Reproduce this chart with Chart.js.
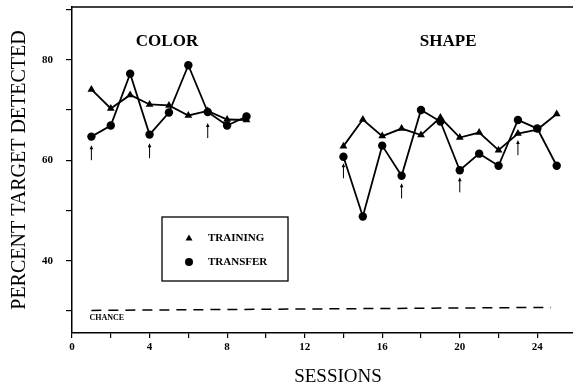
<!DOCTYPE html>
<html lang="en">

<head>
    <meta charset="UTF-8" />
    <title>Sessions</title>
    <script src="https://cdn.jsdelivr.net/npm/chart.js"></script>
    <style>
        body { margin: 0; background: #fff; }
        #wrap { width: 573px; height: 389px; }
    </style>
</head>

<body>
    <div id="wrap"><canvas id="chart"></canvas></div>
    <script>
        // data
        var colorSessions = [1, 2, 3, 4, 5, 6, 7, 8, 9];
        var colorTraining = [74.1, 70.3, 73, 71.1, 70.9, 68.9, 69.8, 68.1, 68];
        var colorTransfer = [64.7, 66.9, 77.2, 65.1, 69.5, 78.9, 69.6, 66.9, 68.7];

        var shapeSessions = [14, 15, 16, 17, 18, 19, 20, 21, 22, 23, 24, 25];
        var shapeTraining = [62.8, 68.1, 64.8, 66.3, 65, 68.5, 64.5, 65.5, 62, 65.3, 66.1, 69.2];
        var shapeTransfer = [60.7, 48.8, 62.9, 56.9, 70, 67.7, 58, 61.3, 58.9, 68, 66.3, 58.9];

        var chanceSessions = [1, 24.7];
        var chanceValues = [30.1, 30.7];

        // arrows under transfer points (session, tip value)
        var arrowSessions = [1, 4, 7, 14, 17, 20, 23];
        var arrowTips = [63, 63.4, 67.4, 59.4, 55.4, 56.6, 64];

        var panelLabels = ["COLOR", "SHAPE"];
        var panelX = [4.9, 19.4];
        var panelY = [83.7, 83.7];

        var serif = "'Liberation Serif', 'DejaVu Serif', serif";

        function pts(xs, ys) {
            return xs.map(function (x, i) { return { x: x, y: ys[i] }; });
        }

        var training = pts(colorSessions, colorTraining).concat([{ x: 11, y: null }], pts(shapeSessions, shapeTraining));
        var transfer = pts(colorSessions, colorTransfer).concat([{ x: 11, y: null }], pts(shapeSessions, shapeTransfer));

        var extras = {
            id: "extras",
            afterDatasetsDraw: function (chart) {
                var c = chart.ctx, xs = chart.scales.x, ys = chart.scales.y, a = chart.chartArea;
                c.save();
                c.strokeStyle = "#000";
                c.fillStyle = "#000";
                // top frame line
                c.lineWidth = 1.5;
                c.beginPath();
                c.moveTo(a.left, a.top);
                c.lineTo(a.right, a.top);
                c.stroke();

                // arrows
                c.lineWidth = 1;
                arrowSessions.forEach(function (s, i) {
                    var px = xs.getPixelForValue(s);
                    var tip = ys.getPixelForValue(arrowTips[i]);
                    var tail = ys.getPixelForValue(arrowTips[i] - 3);
                    c.beginPath();
                    c.moveTo(px, tail);
                    c.lineTo(px, tip + 3);
                    c.stroke();
                    c.beginPath();
                    c.moveTo(px, tip);
                    c.lineTo(px - 1.8, tip + 4);
                    c.lineTo(px + 1.8, tip + 4);
                    c.closePath();
                    c.fill();
                });

                // panel labels
                c.font = "bold 17px " + serif;
                c.textAlign = "center";
                c.textBaseline = "middle";
                panelLabels.forEach(function (t, i) {
                    c.fillText(t, xs.getPixelForValue(panelX[i]), ys.getPixelForValue(panelY[i]));
                });

                // x axis title (sits right of centre in the original)
                c.font = "19px " + serif;
                c.fillText("SESSIONS", 338, 377);

                // chance label
                c.font = "bold 8px " + serif;
                c.textAlign = "left";
                c.fillText("CHANCE", xs.getPixelForValue(0.9), ys.getPixelForValue(28.5));

                // legend box
                c.lineWidth = 1.3;
                c.strokeRect(162, 217, 126, 64);
                c.beginPath();
                c.moveTo(189, 234.5);
                c.lineTo(185.5, 240.5);
                c.lineTo(192.5, 240.5);
                c.closePath();
                c.fill();
                c.beginPath();
                c.arc(189, 262, 4, 0, Math.PI * 2);
                c.fill();
                c.font = "bold 11px " + serif;
                c.fillText("TRAINING", 208, 238);
                c.fillText("TRANSFER", 208, 262);
                c.restore();
            }
        };

        function noPad(s) {
            s.paddingTop = 0;
            s.paddingBottom = 0;
            s.paddingLeft = 0;
            s.paddingRight = 0;
        }

        var ctx = document.getElementById("chart").getContext("2d");
        var myChart = new Chart(ctx, {
            type: "scatter",
            data: {
                datasets: [
                    {
                        label: "TRAINING",
                        data: training,
                        showLine: true,
                        spanGaps: false,
                        borderColor: "#000",
                        backgroundColor: "#000",
                        borderWidth: 1.8,
                        pointBorderWidth: 0,
                        pointStyle: "triangle",
                        pointRadius: 4.5,
                        pointHoverRadius: 4.5,
                    },
                    {
                        label: "TRANSFER",
                        data: transfer,
                        showLine: true,
                        spanGaps: false,
                        borderColor: "#000",
                        backgroundColor: "#000",
                        borderWidth: 1.8,
                        pointBorderWidth: 0,
                        pointStyle: "circle",
                        pointRadius: 4.2,
                        pointHoverRadius: 4.2,
                    },
                    {
                        label: "CHANCE",
                        data: pts(chanceSessions, chanceValues),
                        showLine: true,
                        borderColor: "#000",
                        borderWidth: 1.5,
                        borderDash: [10, 7],
                        pointRadius: 0,
                    },
                ],
            },
            options: {
                responsive: true,
                maintainAspectRatio: false,
                animation: false,
                layout: { autoPadding: false, padding: { top: 7, right: 0, left: 0, bottom: 0 } },
                plugins: {
                    legend: { display: false },
                    tooltip: { enabled: false },
                },
                scales: {
                    x: {
                        type: "linear",
                        min: 0,
                        max: 25.84,
                        afterFit: function (s) { s.height = 56; noPad(s); },
                        border: { color: "#000", width: 1.5 },
                        grid: { drawOnChartArea: false, color: "#000", tickLength: 5, lineWidth: 1.2 },
                        ticks: {
                            stepSize: 2,
                            includeBounds: false,
                            autoSkip: false,
                            maxRotation: 0,
                            padding: 3,
                            color: "#000",
                            font: { family: serif, size: 11, weight: "bold" },
                            callback: function (v) { return v % 4 === 0 ? v : ""; },
                        },
                    },
                    y: {
                        min: 25.6,
                        max: 90.5,
                        afterFit: function (s) { s.width = 72; noPad(s); },
                        border: { color: "#000", width: 1.5 },
                        grid: { drawOnChartArea: false, color: "#000", tickLength: 6, lineWidth: 1.2 },
                        ticks: {
                            stepSize: 10,
                            includeBounds: false,
                            autoSkip: false,
                            padding: 13,
                            color: "#000",
                            font: { family: serif, size: 11, weight: "bold" },
                            callback: function (v) { return v % 20 === 0 ? v : ""; },
                        },
                        title: {
                            display: true,
                            text: "PERCENT TARGET DETECTED",
                            color: "#000",
                            font: { family: serif, size: 20 },
                            padding: { top: 8, bottom: 0 },
                        },
                    },
                },
            },
            plugins: [extras],
        });
    </script>
</body>

</html>
